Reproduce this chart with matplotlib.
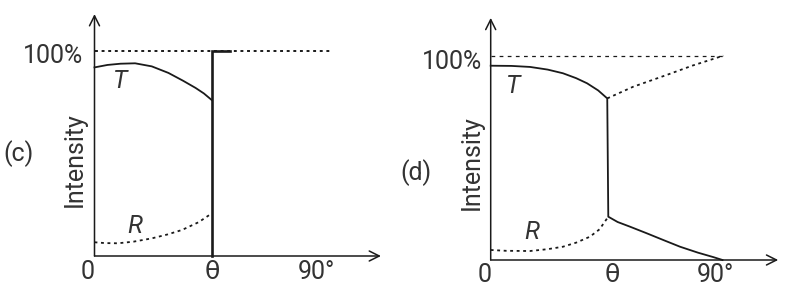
import matplotlib
matplotlib.use("Agg")
import matplotlib.pyplot as plt

plt.rcParams['font.family'] = ['Roboto', 'DejaVu Sans']

# ---- data (angles in degrees, intensity in %) ----
theta_c = 45.0
full_level = 100.0

# panel (c)
c_T_x = [0, 5, 10, 15.6, 22, 28.4, 34, 38.8, 42, 45]
c_T_y = [92.0, 93.2, 93.8, 94.0, 92.5, 89.3, 85.5, 82.0, 79.3, 76.1]
c_R_x = [0, 4, 9, 15, 22, 28, 33.6, 40, 44.7]
c_R_y = [6.7, 6.3, 6.2, 7.0, 8.6, 10.5, 12.7, 16.5, 20.5]
c_jump_x = [45, 45, 52]
c_jump_y = [0, 100, 100]
c_ref_x = [0, 91.5]

# panel (d)
d_T_x = [0, 8, 15.2, 22, 27.9, 33, 37.2, 41.5, 45, 45.4, 49, 53.8, 60.2, 67, 73.1, 80, 86, 89.5]
d_T_y = [95.1, 95.0, 94.5, 93.2, 91.4, 89.0, 86.5, 83.0, 79.1, 21.2, 18.6, 16.3, 13.1, 9.6, 6.5, 3.6, 1.4, 0.0]
d_R_x = [0, 6, 15.2, 22, 27.9, 33, 38.3, 42, 45.4]
d_R_y = [4.9, 4.5, 4.4, 5.3, 6.5, 8.5, 11.4, 15.0, 21.2]
d_R2_x = [45, 55, 68, 78, 89.8]
d_R2_y = [79.1, 84.8, 90.6, 95.2, 100.0]
d_ref_x = [0, 89.8]

tick_labels = ['0', 'θ', '90°']

W, H = 806, 296
fig = plt.figure(figsize=(W / 100, H / 100), dpi=100)

ink = '#1a1a1a'
txt = '#333333'
fs = 18

def make_axes(left_px, bottom_px, xmax, ymax, xscale, yscale):
    ax = fig.add_axes([left_px / W, bottom_px / H, xmax * xscale / W, ymax * yscale / H])
    ax.set_xlim(0, xmax)
    ax.set_ylim(0, ymax)
    ax.axis('off')
    ap = dict(arrowstyle='->', lw=1.1, color=ink, mutation_scale=18, shrinkA=0, shrinkB=0)
    ax.annotate('', xy=(xmax, 0), xytext=(0, 0), arrowprops=ap, annotation_clip=False)
    ax.annotate('', xy=(0, ymax), xytext=(0, 0), arrowprops=ap, annotation_clip=False)
    return ax

def labels(ax, xs, y):
    for xv, lab in zip(xs, tick_labels):
        fam = ['DejaVu Sans'] if lab == 'θ' else ['Roboto', 'DejaVu Sans']
        ax.text(xv, y, lab, fontsize=fs, fontweight='normal', color=txt,
                ha='center', va='center', family=fam)

# ---- panel (c) ----
axc = make_axes(94.5, 40, 110, 118, 2.604, 2.05)
axc.plot(c_ref_x, [full_level] * 2, color=ink, lw=1.4, ls=(0, (1.5, 1.9)), clip_on=False)
axc.plot(c_T_x, c_T_y, color=ink, lw=1.3, clip_on=False)
axc.plot(c_R_x, c_R_y, color=ink, lw=1.3, ls=(0, (1.6, 2.0)), clip_on=False)
axc.plot(c_jump_x, c_jump_y, color=ink, lw=1.9, clip_on=False, solid_joinstyle='miter')

axc.text(9.8, 85.4, 'T', fontsize=fs, style='italic', color=txt, ha='center', va='center')
axc.text(15.5, 14.4, 'R', fontsize=fs, style='italic', color=txt, ha='center', va='center')
axc.text(-4.4, 97.6, '100%', fontsize=fs, color=txt, ha='right', va='center')
axc.text(-7.5, 46.8, 'Intensity', fontsize=fs, color=txt, ha='center', va='center', rotation=90)
axc.text(-29, 50.2, '(c)', fontsize=fs, color=txt, ha='center', va='center')
labels(axc, [-2.5, 45.1, 85.4], -7.8)

# ---- panel (d) ----
axd = make_axes(490.7, 36, 111, 118.5, 2.59, 2.043)
axd.plot(d_ref_x, [full_level] * 2, color=ink, lw=0.9, ls=(0, (3.0, 3.5)), clip_on=False)
axd.plot(d_T_x, d_T_y, color=ink, lw=1.3, clip_on=False)
axd.plot(d_R_x, d_R_y, color=ink, lw=1.3, ls=(0, (1.6, 2.0)), clip_on=False)
axd.plot(d_R2_x, d_R2_y, color=ink, lw=1.3, ls=(0, (1.6, 2.0)), clip_on=False)

axd.text(8.6, 85.4, 'T', fontsize=fs, style='italic', color=txt, ha='center', va='center')
axd.text(15.7, 13.5, 'R', fontsize=fs, style='italic', color=txt, ha='center', va='center')
axd.text(-3.4, 96.9, '100%', fontsize=fs, color=txt, ha='right', va='center')
axd.text(-7.2, 47.7, 'Intensity', fontsize=fs, color=txt, ha='center', va='center', rotation=90)
axd.text(-28.8, 42.6, '(d)', fontsize=fs, color=txt, ha='center', va='center')
labels(axd, [-2.2, 46.8, 86.6], -7.3)

fig.savefig('out.png', dpi=100)
